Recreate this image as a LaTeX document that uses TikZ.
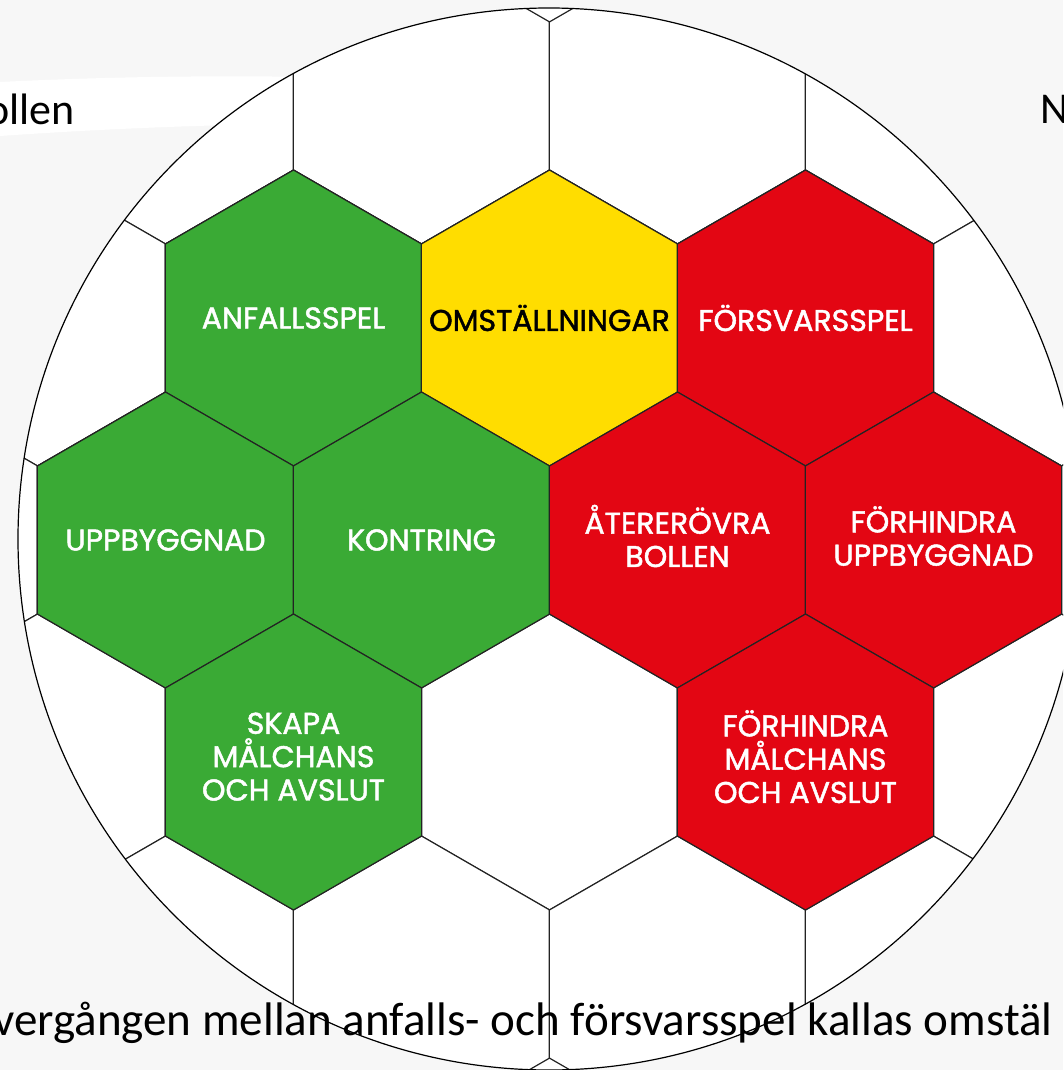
\documentclass[tikz,border=0pt]{standalone}
\usepackage{fontspec}
\setmainfont{Carlito}
\newfontfamily\hexfont{Poppins}[FakeBold=1.6]
\usetikzlibrary{shapes.geometric}
\definecolor{anfgreen}{RGB}{58,170,53}
\definecolor{omstyellow}{RGB}{255,221,0}
\definecolor{forsred}{RGB}{227,6,19}
\definecolor{seam}{RGB}{35,35,35}
\definecolor{slidegray}{RGB}{247,247,247}
\tikzstyle{cell} = [draw=seam, line width=0.9pt, regular polygon, regular polygon sides=6, shape border rotate=30, minimum size=222pt, inner sep=0pt, outer sep=0pt]
\tikzstyle{tag} = [font={\hexfont\fontsize{22.5}{25}\selectfont}, align=center, text=white, inner sep=0pt]
\tikzstyle{anf} = [cell, fill=anfgreen]
\tikzstyle{omst} = [cell, fill=omstyellow]
\tikzstyle{fors} = [cell, fill=forsred]
\tikzstyle{slide} = [font={\fontsize{33}{33}\selectfont}, inner sep=0pt]
\tikzstyle{caption} = [font={\fontsize{35.3}{35}\selectfont}, inner sep=0pt]

\begin{document}
\begin{tikzpicture}[x=0.75pt, y=-0.75pt]
  \useasboundingbox (0,0) rectangle (1063,1070);
  \clip (0,0) rectangle (1063,1070);
  % faint slide background
  \fill[slidegray] (0,0) rectangle (1063,1070);
  \fill[white] (0,82) .. controls (200,72) and (400,76) .. (560,88) -- (560,128) .. controls (400,120) and (200,122) .. (0,136) -- cycle;
  % the ball
  \begin{scope}
    \clip (549,539) circle [radius=398.25pt];
    \fill[white] (549,539) circle [radius=398.25pt];
    \foreach \k in {-2,...,2}
      \foreach \i in {-3,...,3} {
        \pgfmathsetmacro\cx{549.5+256*(\i+0.5*iseven(\k))}
        \node[cell, fill=white] (c\k\i) at (\cx, 540+222*\k) {};
      }
    \node[anf](anfall) at (293.5,318){};
    \node[omst](omst) at (549.5,318){};
    \node[fors](forsvar) at (805.5,318){};
    \node[anf](uppb) at (165.5,540){};
    \node[anf](kontr) at (421.5,540){};
    \node[fors](ater) at (677.5,540){};
    \node[fors](fhupp) at (933.5,540){};
    \node[anf](skapa) at (293.5,762){};
    \node[fors](fhmal) at (805.5,762){};
  \end{scope}
  \draw[line width=0.9pt] (549,539) circle [radius=398.25pt];
  % labels
  \node[tag](anfall-t) at (anfall){ANFALLSSPEL};
  \node[tag, text=black](omst-t) at (omst){OMSTÄLLNINGAR};
  \node[tag](forsvar-t) at (forsvar){FÖRSVARSSPEL};
  \node[tag](uppb-t) at (uppb){UPPBYGGNAD};
  \node[tag](kontr-t) at (kontr){KONTRING};
  \node[tag, yshift=3pt](ater-t) at (ater){ÅTERERÖVRA\\BOLLEN};
  \node[tag, yshift=3pt](fhupp-t) at (fhupp){FÖRHINDRA\\UPPBYGGNAD};
  \node[tag, yshift=4pt](skapa-t) at (skapa){SKAPA\\MÅLCHANS\\OCH AVSLUT};
  \node[tag, yshift=4pt](fhmal-t) at (fhmal){FÖRHINDRA\\MÅLCHANS\\OCH AVSLUT};
  % slide text
  \node[slide, anchor=base east](ollen) at (75,125){ollen};
  \node[slide, anchor=base west](nn) at (1040,124){N};
  \node[caption, anchor=base east](overg) at (1053,1035){vergången mellan anfalls- och försvarsspel kallas omstäl};
\end{tikzpicture}
\end{document}
